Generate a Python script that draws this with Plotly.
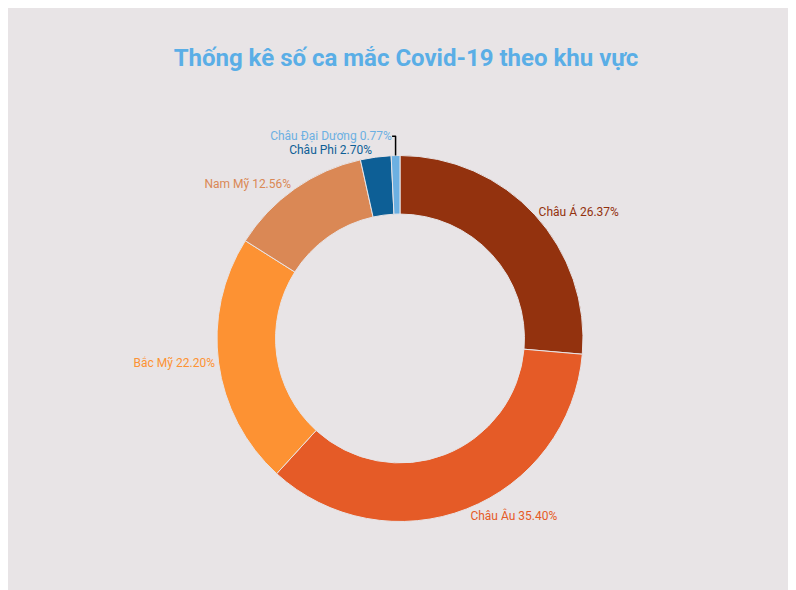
import plotly.graph_objects as go

regions = ["Châu Á", "Châu Âu", "Bắc Mỹ", "Nam Mỹ", "Châu Phi", "Châu Đại Dương"]
shares = [26.37, 35.40, 22.20, 12.56, 2.70, 0.77]
colors = ["#93320e", "#e55b27", "#fd9233", "#da8855", "#0d5f96", "#6cb0e2"]

labels = [f"{r} {v:.2f}%" for r, v in zip(regions, shares)]

fig = go.Figure(go.Pie(
    labels=regions,
    values=shares,
    text=labels,
    textinfo="text",
    textposition="outside",
    outsidetextfont=dict(color=colors, size=12, family="Roboto"),
    marker=dict(colors=colors, line=dict(color="#e8e4e6", width=1)),
    hole=0.68,
    sort=False,
    direction="clockwise",
    rotation=0,
    showlegend=False,
))

fig.update_layout(
    width=796, height=590,
    paper_bgcolor="#e8e4e6",
    plot_bgcolor="#e8e4e6",
    title=dict(text="<b>Thống kê số ca mắc Covid-19 theo khu vực</b>",
               x=0.5, y=0.93, xanchor="center",
               font=dict(size=24, color="#5aaee6", family="Roboto")),
    margin=dict(l=209, r=221, t=147, b=76),
)

fig.write_html("out.html")
